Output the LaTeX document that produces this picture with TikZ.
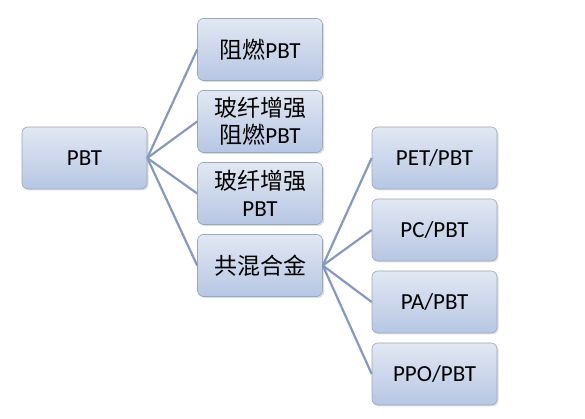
\documentclass[tikz,border=0pt]{standalone}
\usepackage{fontspec}
\setmainfont{Carlito}
\newfontfamily\cjk{Noto Sans CJK SC}
\usetikzlibrary{shadows}
\definecolor{boxtop}{HTML}{E2E8F3}
\definecolor{boxbot}{HTML}{B6C6E3}
\definecolor{boxline}{HTML}{9CA6B8}
\definecolor{linkcol}{HTML}{8699BF}
\tikzset{
  catbox/.style={draw=boxline, line width=0.6pt, rounded corners=6pt,
    top color=boxtop, bottom color=boxbot, minimum width=125pt,
    minimum height=62pt, align=center, font=\fontsize{23}{27}\selectfont,
    drop shadow={shadow xshift=1.5pt, shadow yshift=-1.5pt, opacity=0.25}},
  link/.style={linkcol, line width=2.2pt}
}
\begin{document}
\begin{tikzpicture}[x=1pt,y=1pt]
\useasboundingbox (0,0) rectangle (585,419);
% root
\node[catbox] (pbt) at (84.5,261) {PBT};
% first level
\node[catbox] (zr) at (260,369.5) {{\cjk 阻燃}PBT};
\node[catbox] (bxzr) at (260,297.5) {{\cjk 玻纤增强}\\{\cjk 阻燃}PBT};
\node[catbox] (bx) at (260,225.5) {{\cjk 玻纤增强}\\PBT};
\node[catbox] (hj) at (260,153.5) {\cjk 共混合金};
% alloys
\node[catbox] (pet) at (434.5,261) {PET/PBT};
\node[catbox] (pc) at (434.5,189) {PC/PBT};
\node[catbox] (pa) at (434.5,117) {PA/PBT};
\node[catbox] (ppo) at (434.5,45) {PPO/PBT};

\foreach \n in {zr,bxzr,bx,hj}
  \draw[link] (pbt.east) -- (\n.west);
\foreach \n in {pet,pc,pa,ppo}
  \draw[link] (hj.east) -- (\n.west);
\end{tikzpicture}
\end{document}
